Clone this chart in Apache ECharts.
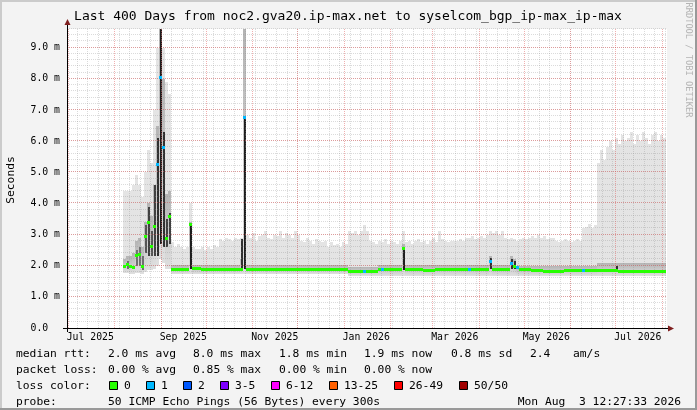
<!DOCTYPE html>
<html><head><meta charset="utf-8">
<script src="https://cdn.jsdelivr.net/npm/echarts@6/dist/echarts.min.js"></script>
<style>html,body{margin:0;padding:0;background:#f3f3f3}#c{width:697px;height:410px}</style>
</head><body><div id="c"></div><script>
// ---------- data ----------
const titleText = 'Last 400 Days from noc2.gva20.ip-max.net to syselcom_bgp_ip-max_ip-max';
// x values are days since 1 Jul 2025
const X_MIN = -0.5, X_MAX = 399.5;
const monthStarts = [0,31,62,92,123,153,184,215,243,274,304,335,365,396];
const xLabelDays = [15,77,138,199,258,319,380];
const xLabels = ['Jul 2025','Sep 2025','Nov 2025','Jan 2026','Mar 2026','May 2026','Jul 2026'];
const firstWeekLine = 6, weekStep = 7;
const yMajorTicks = [0,1,2,3,4,5,6,7,8,9];
const yTickLabels = ['0.0  ','1.0 m','2.0 m','3.0 m','4.0 m','5.0 m','6.0 m','7.0 m','8.0 m','9.0 m'];
const Y_MAX = 9.6, Y_MINOR = 0.2;
// samples: every 2 days starting at day 38 (values in ms)
const startDay = 38, stepDays = 2;
const median = [
2.00,2.06,1.98,1.95,2.35,2.38,2.00,2.94,3.40,2.62,3.26,5.27,8.05,5.80,2.90,3.60,
1.89,1.89,1.89,1.89,1.89,1.89,
3.35,
1.93,1.93,1.93,
1.88,1.88,1.88,
1.89,1.89,1.89,1.89,1.89,1.89,1.89,1.89,1.89,1.89,1.89,
6.76,
1.90,1.90,1.90,1.90,1.90,1.90,1.90,1.90,1.90,1.90,
1.90,1.90,1.90,1.90,1.90,1.90,1.90,1.90,1.90,1.90,
1.90,1.90,1.90,1.90,1.90,1.90,1.90,1.90,1.90,1.90,
1.90,1.90,1.90,1.90,
1.84,1.84,1.84,1.84,1.84,1.84,1.84,1.84,1.84,1.84,
1.90,1.90,1.90,1.90,1.90,1.90,1.90,1.90,
2.58,
1.90,1.90,1.90,1.90,1.90,1.90,
1.87,1.87,1.87,1.87,
1.90,1.90,1.90,1.90,1.90,1.90,1.90,1.90,1.90,1.90,
1.90,1.90,1.90,1.90,1.90,1.90,1.90,1.90,
2.14,
1.90,1.90,1.90,1.90,1.90,1.90,
2.10,2.00,1.95,
1.90,1.90,1.90,1.90,
1.87,1.87,1.87,1.87,
1.84,1.84,1.84,1.84,1.84,1.84,1.84,
1.86,1.86,1.86,1.86,1.86,1.86,1.86,1.86,1.86,1.86,
1.86,1.86,1.86,1.86,1.86,1.86,1.86,
1.86,
1.84,1.84,1.84,1.84,1.84,1.84,1.84,1.84,1.84,1.84,
1.84,1.84,1.84,1.84,1.84,1.84
];
const lossIdx = [11,12,13,40,80,86,115,122,129,131,153];
const lossLevel = [1,1,1,1,1,1,1,1,1,1,1];
const smokeLo = [
1.76,1.76,1.74,1.74,1.78,1.78,1.74,1.80,1.85,1.85,1.90,2.00,2.20,2.10,1.90,1.90,
1.72,1.72,1.72,1.72,1.72,1.72,1.72,1.72,1.72,1.72,
1.72,1.72,1.72,1.72,1.72,1.72,1.72,1.72,1.72,1.72,
1.72,1.72,1.72,1.72,1.72,1.72,1.72,1.72,1.72,1.72,
1.72,1.72,1.72,1.72,1.72,1.72,1.72,1.72,1.72,1.72,
1.72,1.72,1.72,1.72,1.72,1.72,1.72,1.72,1.72,1.72,
1.72,1.72,1.72,1.72,1.72,1.72,1.72,1.72,1.72,
1.67,1.67,1.67,1.67,1.67,1.67,1.67,1.67,1.67,1.67,
1.67,1.67,1.67,1.67,1.67,1.67,1.67,1.67,1.67,1.67,
1.67,1.67,1.67,1.67,1.67,1.67,1.67,1.67,1.67,1.67,
1.67,1.67,1.67,1.67,1.67,1.67,1.67,1.67,1.67,1.67,
1.67,1.67,1.67,1.67,1.67,1.67,1.67,1.67,1.67,1.67,
1.67,1.67,1.67,1.67,1.67,1.67,1.67,1.67,1.67,1.67,
1.67,1.67,1.67,1.67,1.67,1.67,1.67,1.67,1.67,1.67,
1.67,1.67,1.67,1.67,1.67,1.67,1.67,1.67,1.67,1.67,
1.67,1.67,1.67,1.67,1.67,1.67,1.67,1.67,1.67,1.67,
1.67,1.67,1.67,1.67,1.67,1.67,1.67,1.67,1.67,1.67,
1.67,1.67,1.67,1.67,1.67,1.67
];
const smokeMid = [
2.20,2.30,2.30,2.40,2.80,2.90,2.60,3.40,4.00,3.60,4.60,6.50,9.60,8.00,4.30,4.40,
2.02,2.02,2.02,2.02,2.02,2.02,
3.40,
2.02,2.02,2.02,2.02,2.02,2.02,2.02,2.02,
2.02,2.02,2.02,2.02,2.02,2.02,2.02,2.02,
2.20,
9.60,
2.02,2.02,2.02,2.02,2.02,2.02,2.02,2.02,2.02,2.02,
2.02,2.02,2.02,2.02,2.02,2.02,2.02,2.02,2.02,2.02,
2.02,2.02,2.02,2.02,2.02,2.02,2.02,2.02,2.02,2.02,
2.02,2.02,2.02,2.02,
1.96,1.96,1.96,1.96,1.96,1.96,1.96,1.96,1.96,1.96,
2.02,2.02,2.02,2.02,2.02,2.02,2.02,2.02,
2.70,
2.02,2.02,2.02,2.02,2.02,2.02,2.02,2.02,2.02,2.02,
2.02,2.02,2.02,2.02,2.02,2.02,2.02,2.02,2.02,2.02,
2.02,2.02,2.02,2.02,2.02,2.02,2.02,2.02,
2.30,
2.02,2.02,2.02,2.02,2.02,2.02,
2.30,2.20,
2.00,2.00,2.00,2.00,2.00,2.00,2.00,2.00,2.00,2.00,
2.00,2.00,2.00,2.00,2.00,2.00,2.00,2.00,2.00,2.00,
2.00,2.00,2.00,2.00,2.00,2.00,2.00,
2.08,2.08,2.08,2.08,2.08,2.08,2.08,2.08,2.08,2.08,
2.08,2.08,2.08,2.08,2.08,2.08,2.08,2.08,2.08,2.08,
2.08,2.08,2.08
];
const smokeHi = [
4.40,4.40,4.40,4.60,4.90,4.60,4.20,5.00,5.70,5.30,7.00,9.00,9.60,9.00,7.90,7.50,
2.75,2.60,2.70,2.60,2.55,2.60,
4.00,
2.60,2.55,2.55,2.60,2.50,2.60,2.55,2.65,2.60,
2.85,2.80,2.90,2.85,2.80,2.90,2.85,
2.90,
9.60,
3.00,2.90,3.05,2.80,2.95,3.00,3.10,2.90,2.85,3.00,2.95,3.10,2.90,3.05,3.00,2.90,3.10,3.00,
2.80,2.75,2.90,2.80,2.70,2.85,2.80,2.75,2.80,
2.60,2.75,2.65,2.70,2.60,2.75,2.70,
3.10,3.05,3.10,3.00,3.10,3.30,3.10,
2.80,2.75,2.70,2.80,2.75,2.85,2.70,2.80,2.75,2.70,2.80,
3.10,
2.75,2.80,2.70,2.80,2.85,2.75,2.80,2.70,2.80,2.90,2.75,3.10,2.85,2.80,2.75,2.80,2.80,
2.80,2.85,2.80,2.90,2.90,2.95,2.85,2.90,2.95,2.90,
3.00,3.10,3.05,3.10,3.00,3.10,2.90,
2.85,2.90,2.85,2.80,2.85,2.90,2.85,
2.90,2.95,2.90,3.00,2.90,2.95,2.85,2.90,2.90,
2.80,2.75,2.80,2.85,2.80,2.75,2.80,2.85,2.80,
3.20,3.25,3.35,3.20,3.30,
5.30,5.70,5.40,5.80,6.00,5.70,6.10,5.90,6.20,6.00,6.10,6.30,5.90,6.20,6.00,6.30,6.10,5.90,6.20,6.30,6.00,6.20,6.10
];
const coreIdx = [1,4,5,6,7,8,9,10,11,12,13,14,15,22,39,40,93,122,129,130,164];
const coreLo  = [1.90,2.00,2.00,1.85,2.40,2.30,2.30,2.30,2.30,2.70,2.60,2.60,2.70,1.90,1.90,1.90,1.85,1.90,1.90,1.90,1.86];
const coreHi  = [2.15,2.50,2.60,2.30,3.30,3.90,3.10,4.60,6.10,9.60,6.30,3.50,3.70,3.35,2.85,6.76,2.60,2.25,2.20,2.15,1.98];
const coreShade = ['#707070','#707070','#707070','#707070','#555555','#404040','#555555','#404040','#303030','#1e1e1e','#303030','#404040','#404040','#1e1e1e','#303030','#1e1e1e','#1e1e1e','#303030','#303030','#303030','#303030'];
const lossColors = ['#26ff00','#00b8ff','#0059ff','#7e00ff','#ff00ff','#ff6000','#ff0000','#a00000'];
const lossLabels = ['0','1','2','3-5','6-12','13-25','26-49','50/50'];
const statsRtt = [['median rtt:',16],['2.0 ms avg',108],['8.0 ms max',193],['1.8 ms min',279],['1.9 ms now',364],['0.8 ms sd',451],['2.4',530],['am/s',573]];
const statsLoss = [['packet loss:',16],['0.00 % avg',108],['0.85 % max',193],['0.00 % min',279],['0.00 % now',364]];
const probeText = '50 ICMP Echo Pings (56 Bytes) every 300s';
const dateText = 'Mon Aug  3 12:27:33 2026';

// ---------- build ----------
const MONO = "'DejaVu Sans Mono', monospace";
const dayOf = i => startDay + stepDays * i;
const lossOf = median.map(() => 0);
lossIdx.forEach((k, j) => { lossOf[k] = lossLevel[j]; });

function csRect(params){ const c = params.coordSys; return {x:c.x, y:c.y, width:c.width, height:c.height}; }

function bandSeries(lo, hi, fill, z){
  return {type:'custom', silent:true, z, clip:true,
    data: lo.map((v,i)=>[dayOf(i), v, hi[i]]),
    renderItem(params, api){
      const d = api.value(0), a = api.value(1), b = api.value(2);
      const p1 = api.coord([d - stepDays/2, b]);
      const p2 = api.coord([d + stepDays/2, a]);
      const x0 = Math.round(p1[0]), x1 = Math.round(p2[0]);
      const y0 = Math.round(p1[1]), y1 = Math.round(p2[1]);
      const r = echarts.graphic.clipRectByRect({x:x0, y:y0, width:x1-x0, height:y1-y0}, csRect(params));
      if (!r) return null;
      return {type:'rect', shape:r, style:{fill: typeof fill === 'function' ? fill() : fill}};
    }};
}

const series = [
  bandSeries(smokeLo, smokeHi, '#e4e4e4', 1),
  bandSeries(smokeLo, smokeMid, () => new echarts.graphic.LinearGradient(0,0,0,1,[{offset:0,color:'#b4b4b4'},{offset:0.5,color:'#cacaca'},{offset:1,color:'#e0e0e0'}]), 1),
  {type:'custom', silent:true, z:1,
    data: coreIdx.map((k,j)=>[dayOf(k), coreLo[j], coreHi[j], j]),
    renderItem(params, api){
      const d = api.value(0);
      const p1 = api.coord([d, api.value(2)]), p2 = api.coord([d, api.value(1)]);
      const x = Math.round(p1[0]) - 1;
      const r = echarts.graphic.clipRectByRect({x, y:Math.round(p1[1]), width:2, height:Math.round(p2[1])-Math.round(p1[1])}, csRect(params));
      if (!r) return null;
      return {type:'rect', shape:r, style:{fill:coreShade[api.value(3)]}};
    }}
];

function vLines(days, color){
  return {type:'custom', silent:true, z:2, data: days.map(d=>[d, 0]),
    renderItem(params, api){
      const c = params.coordSys; const p = api.coord([api.value(0), 0]);
      const x = Math.round(p[0]) + 0.5;
      if (x < c.x || x > c.x + c.width) return null;
      return {type:'line', shape:{x1:x, y1:c.y, x2:x, y2:c.y + c.height}, style:{stroke:color, lineWidth:1, lineDash:[1,1]}};
    }};
}
function hLines(vals, color){
  return {type:'custom', silent:true, z:2, data: vals.map(v=>[X_MIN, v]),
    renderItem(params, api){
      const c = params.coordSys; const p = api.coord([X_MIN, api.value(1)]);
      const y = Math.round(p[1]) - 0.5;
      if (y < c.y - 1) return null;
      return {type:'line', shape:{x1:c.x, y1:y, x2:c.x + c.width, y2:y}, style:{stroke:color, lineWidth:1, lineDash:[1,1]}};
    }};
}
const weekDays = [];
for (let d = firstWeekLine; d < X_MAX; d += weekStep) weekDays.push(d);
const minorY = [];
for (let k = 1; k * Y_MINOR <= Y_MAX + 1e-9; k++) minorY.push(+(k * Y_MINOR).toFixed(2));
const GRID = 'rgba(143,143,143,0.32)', MGRID = 'rgba(222,80,80,0.45)';
series.push(vLines(weekDays, GRID), hLines(minorY, GRID), vLines(monthStarts, MGRID), hLines(yMajorTicks.filter(v=>v>0), MGRID));

series.push({type:'custom', silent:true, z:4,
  data: median.map((m,i)=>[dayOf(i), m, lossOf[i]]),
  renderItem(params, api){
    const d = api.value(0);
    const p1 = api.coord([d - stepDays/2, api.value(1)]), p2 = api.coord([d + stepDays/2, api.value(1)]);
    const x0 = Math.round(p1[0]), x1 = Math.round(p2[0]);
    const y = Math.round(p1[1]);
    return {type:'rect', shape:{x:x0, y:y-1, width:x1-x0, height:3}, style:{fill: lossColors[api.value(2)]}};
  }});

// ---------- graphics (frame, texts, legend) ----------
const g = [];
g.push({type:'rect', shape:{x:0,y:0,width:697,height:2}, style:{fill:'#cbcbcb'}, z:-5});
g.push({type:'rect', shape:{x:0,y:0,width:2,height:410}, style:{fill:'#cbcbcb'}, z:-5});
g.push({type:'rect', shape:{x:0,y:408,width:697,height:2}, style:{fill:'#999999'}, z:-5});
g.push({type:'rect', shape:{x:695,y:0,width:2,height:410}, style:{fill:'#999999'}, z:-5});
function txt(text, x, y, size){
  return {type:'text', x, y, z:10, style:{text, font: size + 'px ' + MONO, fill:'#000', align:'left', textAlign:'left', verticalAlign:'middle', textVerticalAlign:'middle'}};
}
g.push({type:'text', x:348, y:17, z:10, style:{text:titleText, font:'13px '+MONO, fill:'#000', align:'center', textAlign:'center', verticalAlign:'middle', textVerticalAlign:'middle'}});
g.push({type:'text', x:11, y:180, rotation:Math.PI/2, z:10, style:{text:'Seconds', font:'11.3px '+MONO, fill:'#000', align:'center', textAlign:'center', verticalAlign:'middle', textVerticalAlign:'middle'}});
g.push({type:'text', x:688, y:60, rotation:-Math.PI/2, z:10, style:{text:'RRDTOOL / TOBI OETIKER', font:'8.7px '+MONO, fill:'#b4b4b4', align:'center', textAlign:'center', verticalAlign:'middle', textVerticalAlign:'middle'}});
// axis lines and arrows
g.push({type:'line', z:10, shape:{x1:67.5, y1:22, x2:67.5, y2:332}, style:{stroke:'#000', lineWidth:1}});
g.push({type:'line', z:10, shape:{x1:63, y1:328.5, x2:669, y2:328.5}, style:{stroke:'#000', lineWidth:1}});
g.push({type:'polygon', z:11, shape:{points:[[67.5,19],[64.5,25],[70.5,25]]}, style:{fill:'#7f1f1f'}});
g.push({type:'polygon', z:11, shape:{points:[[674,328.5],[668,325.5],[668,331.5]]}, style:{fill:'#7f1f1f'}});
const LF = 11.3;
statsRtt.forEach(([t,x]) => g.push(txt(t, x, 354, LF)));
statsLoss.forEach(([t,x]) => g.push(txt(t, x, 370, LF)));
g.push(txt('loss color:', 16, 386, LF));
const boxX = [109,146,183,220,271,329,394,459];
lossLabels.forEach((t,k) => {
  g.push({type:'rect', z:10, shape:{x:boxX[k]+0.5, y:381.5, width:8, height:8}, style:{fill:lossColors[k], stroke:'#000', lineWidth:1}});
  g.push(txt(t, boxX[k]+15, 386, LF));
});
g.push(txt('probe:', 16, 402, LF));
g.push(txt(probeText, 108, 402, LF));
g.push({type:'text', x:681, y:402, z:10, style:{text:dateText, font:LF+'px '+MONO, fill:'#000', align:'right', textAlign:'right', verticalAlign:'middle', textVerticalAlign:'middle'}});

const chart = echarts.init(document.getElementById('c'), null, {renderer:'canvas', width:697, height:410});
chart.setOption({
  animation:false,
  backgroundColor:'#f3f3f3',
  grid:{left:67, right:30, top:29, bottom:82, show:true, backgroundColor:'#ffffff', borderWidth:0},
  xAxis:{type:'value', min:X_MIN, max:X_MAX,
    axisLine:{show:false}, axisTick:{show:false}, splitLine:{show:false},
    axisLabel:{customValues:xLabelDays, formatter:v => { const k = xLabelDays.indexOf(v); return k >= 0 ? xLabels[k] : ''; },
      margin:4, color:'#000', fontFamily:MONO, fontSize:9.8}},
  yAxis:{type:'value', min:0, max:Y_MAX, interval:Y_MINOR,
    axisLine:{show:false}, axisTick:{show:false}, splitLine:{show:false},
    axisLabel:{customValues:yMajorTicks, formatter:v => { const k = yMajorTicks.indexOf(v); return k >= 0 ? yTickLabels[k] : ''; },
      margin:7, color:'#000', fontFamily:MONO, fontSize:9.8}},
  series,
  graphic:g
});
</script></body></html>
